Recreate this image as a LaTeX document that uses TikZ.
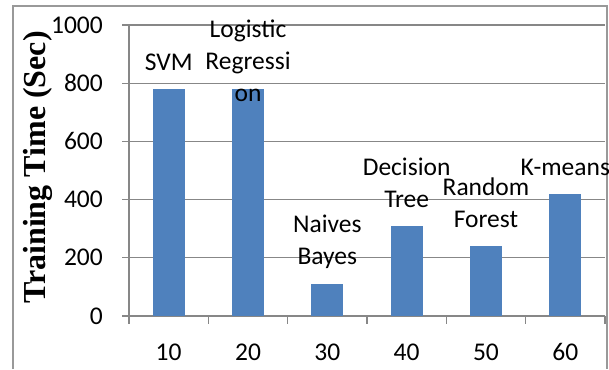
\documentclass[tikz,border=0pt]{standalone}
\usepackage{fontspec}
\usetikzlibrary{positioning}
\newfontfamily\chartfont{Carlito}
\newfontfamily\titlefont{Liberation Serif}
\definecolor{bar fill}{HTML}{4F81BD}
\colorlet{grid line}{black!47}
\colorlet{frame line}{black!40}
\tikzset{
  gridline/.style={draw=grid line, line width=1.3pt},
  frameline/.style={draw=frame line, line width=1.5pt},
  bar/.style={fill=bar fill},
  ticklabel/.style={font=\chartfont\fontsize{25.5}{32}\selectfont, inner sep=0pt},
  barlabel/.style={ticklabel, align=center},
  ytitle/.style={font=\titlefont\bfseries\fontsize{32}{38}\selectfont, rotate=90, inner sep=0pt}
}

\begin{document}
\begin{tikzpicture}[x=1pt,y=1pt]
    \useasboundingbox (0,0) rectangle (609,369);
    \draw[frameline] (13,0) -- (13,363) -- (607,363) -- (607,0);
    \node[ytitle] (title) at (38,201.5) {Training Time (Sec)};
    \begin{scope}[shift={(129,53)}, x=79.33pt, y=0.291pt]
        \foreach \v in {200,400,...,1000}
            \draw[gridline] ([xshift=-7pt]0,\v) -- (6,\v);
        \draw[gridline] ([xshift=-7pt]0,0) -- (6,0);
        \draw[gridline] (0,0) -- (0,1000);
        \foreach \i in {0,...,6}
            \draw[gridline] (\i,0) -- ([yshift=-8pt]\i,0);
        \foreach \v in {0,200,...,1000}
            \node[ticklabel, anchor=east] (ylab\v) at ([xshift=-26pt]0,\v) {\v};
        \foreach \v/\t [count=\i] in {780/10, 780/20, 110/30, 310/40, 240/50, 420/60} {
            \fill[bar] (\i-0.7,0) rectangle (\i-0.3,\v);
            \node[ticklabel] (xlab\i) at ([yshift=-36pt]\i-0.5,0) {\t};
        }
        \foreach \t/\ly [count=\i] in {SVM/873, {Logistic\\Regressi\\on}/876, {Naives\\Bayes}/256,
                {Decision\\Tree}/457, {Random\\Forest}/390, K-means/509}
            \node[barlabel] (blab\i) at (\i-0.5,\ly) {\t};
    \end{scope}
\end{tikzpicture}
\end{document}
